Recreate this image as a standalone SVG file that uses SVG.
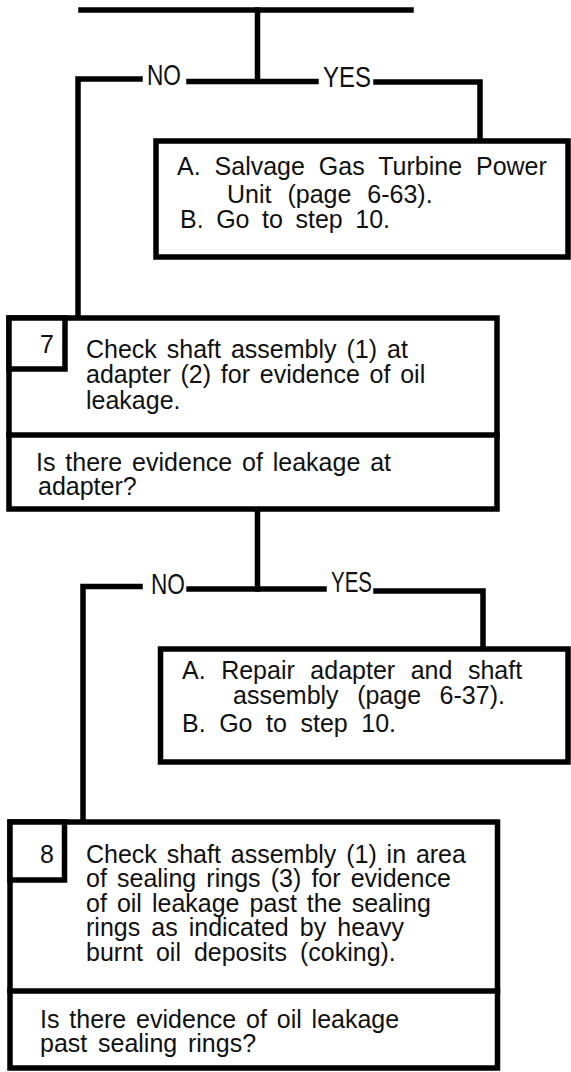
<svg xmlns="http://www.w3.org/2000/svg" width="571" height="1072" viewBox="0 0 571 1072">
  <style>
    .ln { fill: none; stroke: #000; stroke-width: 5.5; stroke-linecap: square; }
    .box { fill: #fff; stroke: #000; stroke-width: 5.5; }
    .tx { font-family: "Liberation Sans", Arial, sans-serif; font-size: 25px; fill: #111; }
    .lbl { font-family: "Liberation Sans", Arial, sans-serif; font-size: 29px; fill: #111; }
  </style>
  <rect width="571" height="1072" fill="#fff"/>

  <!-- connectors -->
  <g id="connectors">
    <path class="ln" d="M81,10 H411"/>
    <path class="ln" d="M257.5,10 V81"/>
    <path class="ln" d="M140,79 H78 V318"/>
    <path class="ln" d="M189,81.5 H316"/>
    <path class="ln" d="M376,82 H480 V141"/>

    <path class="ln" d="M257.5,509 V589"/>
    <path class="ln" d="M140,586.5 H83 V822"/>
    <path class="ln" d="M189,589 H324"/>
    <path class="ln" d="M376,591 H483 V649"/>

    <text class="lbl" x="147" y="85" textLength="34" lengthAdjust="spacingAndGlyphs">NO</text>
    <text class="lbl" x="323" y="87" textLength="48" lengthAdjust="spacingAndGlyphs">YES</text>
    <text class="lbl" x="151" y="594" textLength="34" lengthAdjust="spacingAndGlyphs">NO</text>
    <text class="lbl" x="331" y="592" textLength="41" lengthAdjust="spacingAndGlyphs">YES</text>
  </g>

  <!-- action box: salvage -->
  <g id="salvage">
    <rect class="box" x="156" y="141" width="412" height="116"/>
    <text class="tx" x="177" y="175" word-spacing="7">A. Salvage Gas Turbine Power</text>
    <text class="tx" x="227" y="203" word-spacing="9">Unit (page 6-63).</text>
    <text class="tx" x="180" y="228" word-spacing="5.6">B. Go to step 10.</text>
  </g>

  <!-- step 7 -->
  <g id="step7">
    <rect class="box" x="9" y="318" width="488" height="191"/>
    <rect class="box" x="9" y="318" width="56" height="51"/>
    <path class="ln" d="M9,435 H497"/>
    <text class="tx" x="40" y="353">7</text>
    <text class="tx" x="86" y="358" word-spacing="3">Check shaft assembly (1) at</text>
    <text class="tx" x="86" y="383" word-spacing="2.8">adapter (2) for evidence of oil</text>
    <text class="tx" x="86" y="409">leakage.</text>
    <text class="tx" x="36" y="471" word-spacing="2.9">Is there evidence of leakage at</text>
    <text class="tx" x="38" y="495">adapter?</text>
  </g>

  <!-- action box: repair -->
  <g id="repair">
    <rect class="box" x="160.5" y="649" width="407.5" height="113"/>
    <text class="tx" x="182" y="679" word-spacing="8.6">A. Repair adapter and shaft</text>
    <text class="tx" x="233" y="704" word-spacing="11.6">assembly (page 6-37).</text>
    <text class="tx" x="182" y="732" word-spacing="6.6">B. Go to step 10.</text>
  </g>

  <!-- step 8 -->
  <g id="step8">
    <rect class="box" x="10" y="822" width="487.5" height="246"/>
    <rect class="box" x="10" y="822" width="54.5" height="58"/>
    <path class="ln" d="M10,991 H497.5"/>
    <text class="tx" x="40" y="863">8</text>
    <text class="tx" x="86" y="863" word-spacing="2.9">Check shaft assembly (1) in area</text>
    <text class="tx" x="86" y="887" word-spacing="3.2">of sealing rings (3) for evidence</text>
    <text class="tx" x="86" y="912" word-spacing="3.1">of oil leakage past the sealing</text>
    <text class="tx" x="86" y="936" word-spacing="4.1">rings as indicated by heavy</text>
    <text class="tx" x="86" y="961" word-spacing="6">burnt oil deposits (coking).</text>
    <text class="tx" x="40" y="1028" word-spacing="2.9">Is there evidence of oil leakage</text>
    <text class="tx" x="40" y="1052" word-spacing="3.8">past sealing rings?</text>
  </g>
</svg>
